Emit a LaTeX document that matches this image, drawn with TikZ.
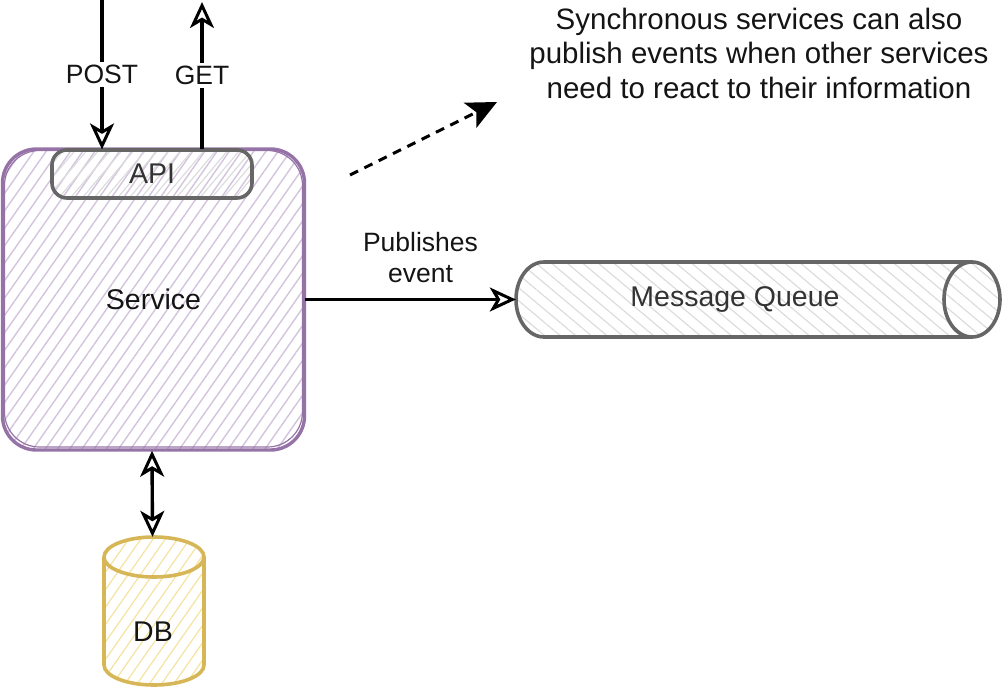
\documentclass[tikz,border=0pt]{standalone}
\usepackage{fontspec}
\setmainfont{Liberation Sans}
\usetikzlibrary{arrows.meta,patterns.meta,calc}
\definecolor{purp}{HTML}{9673A6}
\definecolor{purphatch}{HTML}{D3C3DD}
\definecolor{grayline}{HTML}{666666}
\definecolor{grayhatch}{HTML}{DCDCDC}
\definecolor{yell}{HTML}{D6B656}
\definecolor{yellhatch}{HTML}{F4E3A0}
\definecolor{txt}{HTML}{141414}
\tikzset{
  boxlabel/.style={font=\fontsize{28.5}{34}\selectfont, text=txt},
  edgelabel/.style={font=\fontsize{26.5}{31}\selectfont, text=txt, fill=white, inner sep=3pt, align=center},
  conn/.style={line width=3.4pt, black},
  openhead/.style={-{Stealth[open,length=26pt,width=24pt,inset=7pt,line width=3pt]}},
  bothopen/.style={{Stealth[open,length=26pt,width=24pt,inset=7pt,line width=3pt]}-{Stealth[open,length=26pt,width=24pt,inset=7pt,line width=3pt]}},
}
\begin{document}
\begin{tikzpicture}[x=1pt,y=-1pt]
\useasboundingbox (0,0) rectangle (1004,688);

% Service
\node[draw=purp, line width=3.4pt, rounded corners=34pt,
      pattern={Lines[angle=55,distance=10pt,line width=1.4pt]}, pattern color=purphatch,
      minimum width=302pt, minimum height=301pt, inner sep=0pt, boxlabel]
      (service) at (153.5,299.5) {Service};
\draw[purp, line width=1.2pt, rounded corners=35pt] (4.5,150.5) rectangle (302.5,447);

% API
\node[draw=grayline, line width=3.6pt, rounded corners=15pt,
      pattern={Lines[angle=50,distance=9pt,line width=1.2pt]}, pattern color=grayhatch,
      minimum width=200pt, minimum height=48pt, inner sep=0pt, boxlabel, text=black!80]
      (api) at (152,174) {API};

% Message queue cylinder
\path[pattern={Lines[angle=-40,distance=10pt,line width=1.2pt]}, pattern color=grayhatch]
  (544,262) -- (972,262) arc[start angle=-90,end angle=90,x radius=28,y radius=37.5]
  -- (544,337) arc[start angle=90,end angle=270,x radius=28,y radius=37.5] -- cycle;
\draw[grayline, line width=3.6pt]
  (972,262) -- (544,262) arc[start angle=270,end angle=90,x radius=28,y radius=37.5]
  -- (972,337);
\draw[grayline, line width=3.6pt] (972,299.5) ellipse[x radius=28,y radius=37.5];
\node[minimum width=485pt, minimum height=75pt, inner sep=0pt] (mq) at (758.5,299.5) {};
\node[boxlabel, text=black!80] (mqlabel) at (735,300) {Message Queue};

% DB cylinder
\path[pattern={Lines[angle=55,distance=10pt,line width=1.2pt]}, pattern color=yellhatch]
  (104,557) arc[start angle=180,end angle=360,x radius=50,y radius=20]
  -- (204,665) arc[start angle=0,end angle=180,x radius=50,y radius=20] -- cycle;
\draw[yell, line width=3.6pt]
  (104,557) -- (104,665) arc[start angle=180,end angle=0,x radius=50,y radius=20] -- (204,557);
\draw[yell, line width=3.6pt] (154,557) ellipse[x radius=50,y radius=20];
\node[minimum width=100pt, minimum height=148pt, inner sep=0pt] (db) at (154,611) {};
\node[boxlabel] (dblabel) at (153,632) {DB};

% Top text
\node[font=\fontsize{29.5}{34.5}\selectfont, text=txt, align=center] (note) at (759,53)
  {Synchronous services can also\\publish events when other services\\need to react to their information};

% Connectors
\coordinate (posttop) at (102,0);
\coordinate (gettop) at (202,2);
\coordinate (dashstart) at (350,175);
\coordinate (dashend) at (497,102);

\draw[conn, openhead] (posttop) -- node[edgelabel]{POST} (posttop |- api.north);
\draw[conn, openhead] (gettop |- api.north) -- node[edgelabel]{GET} (gettop);
\draw[conn, openhead] (service.east |- mq.west) -- node[edgelabel, fill=none, above=12pt, xshift=10pt]{Publishes\\event} (mq.west);
\draw[conn, bothopen] ([xshift=-1.5pt]service.south) -- ([xshift=-1.5pt]db.north);
\draw[line width=3pt, dash pattern=on 9pt off 7pt, -{Stealth[length=30pt,width=28pt,inset=7pt]}] (dashstart) -- (dashend);
\end{tikzpicture}
\end{document}
